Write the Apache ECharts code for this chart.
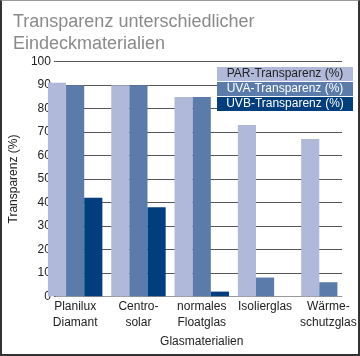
<!DOCTYPE html>
<html><head><meta charset="utf-8">
<script src="https://cdn.jsdelivr.net/npm/echarts@6/dist/echarts.min.js"></script>
<style>
html,body{margin:0;padding:0;background:#fff;}
#wrap{position:relative;width:360px;height:356px;}
#chart{width:360px;height:356px;}
#frame{position:absolute;left:0;top:0;width:360px;height:356px;box-sizing:border-box;
border-left:2px solid #333;border-right:2px solid #333;border-bottom:2px solid #333;border-top:1px solid #999;pointer-events:none;}
</style></head>
<body><div id="wrap"><div id="chart"></div><div id="frame"></div></div>
<script>
const categories = ['Planilux\nDiamant', 'Centro-\nsolar', 'normales\nFloatglas', 'Isolierglas', 'Wärme-\nschutzglas'];
const seriesNames = ['PAR-Transparenz (%)', 'UVA-Transparenz (%)', 'UVB-Transparenz (%)'];
const parValues = [91, 90, 85, 73, 67];
const uvaValues = [90, 90, 85, 8, 6];
const uvbValues = [42, 38, 2, 0, 0];
const yTicks = [0, 10, 20, 30, 40, 50, 60, 70, 80, 90, 100];

const colors = ['#b0b9d9', '#5b7bab', '#003e7e'];
const textColors = ['#222', '#fff', '#fff'];
const FONT = 'Liberation Sans, Arial, sans-serif';

const rich = {};
seriesNames.forEach((n, i) => {
  rich['s' + i] = {backgroundColor: colors[i], color: textColors[i], width: 136, height: 14,
    align: 'center', fontSize: 12, fontFamily: FONT, lineHeight: 15};
});

const chart = echarts.init(document.getElementById('chart'));
chart.setOption({
  animation: false,
  title: {text: 'Transparenz unterschiedlicher\nEindeckmaterialien', left: 8, top: 6,
    textStyle: {fontSize: 18, fontWeight: 'normal', color: '#8a8a8a', fontFamily: FONT, lineHeight: 22}},
  legend: {data: seriesNames, orient: 'vertical', left: 212, top: 67, itemGap: 1, padding: 0,
    itemWidth: 0, itemHeight: 0, selectedMode: false, icon: 'rect',
    formatter: name => '{s' + seriesNames.indexOf(name) + '|' + name + '}',
    textStyle: {rich: rich}},
  grid: [
    {left: 43.5, right: 18, top: 61.7, bottom: 59.7},
    {left: 43.5, width: 317.5, top: 61.7, bottom: 59.7}
  ],
  xAxis: [
    {gridIndex: 0, type: 'value', min: 0, max: 1, axisLabel: {show: false}, axisTick: {show: false},
      splitLine: {show: false}, axisLine: {show: true, lineStyle: {color: '#999', width: 1}}},
    {gridIndex: 1, type: 'category', data: categories, axisLine: {show: false}, axisTick: {show: false},
      axisLabel: {fontSize: 12, color: '#222', fontFamily: FONT, lineHeight: 16, margin: 2, interval: 0},
      name: 'Glasmaterialien', nameLocation: 'middle', nameGap: 37,
      nameTextStyle: {fontSize: 12, color: '#222', fontFamily: FONT}}
  ],
  yAxis: [
    {gridIndex: 0, type: 'value', min: yTicks[0], max: yTicks[yTicks.length - 1], interval: 10,
      axisLine: {show: false}, axisTick: {show: true, length: 2, lineStyle: {color: '#555'}},
      axisLabel: {fontSize: 12, color: '#222', fontFamily: FONT, margin: 5},
      splitLine: {show: true, lineStyle: {color: '#555', width: 1}},
      name: 'Transparenz (%)', nameLocation: 'middle', nameGap: 26,
      nameTextStyle: {fontSize: 12, color: '#222', fontFamily: FONT}},
    {gridIndex: 1, type: 'value', min: 0, max: 100, show: false}
  ],
  series: [parValues, uvaValues, uvbValues].map((vals, i) => ({
    name: seriesNames[i], type: 'bar', xAxisIndex: 1, yAxisIndex: 1, data: vals,
    barGap: '0%', barCategoryGap: '14%', itemStyle: {color: colors[i]}
  }))
});
</script></body></html>
